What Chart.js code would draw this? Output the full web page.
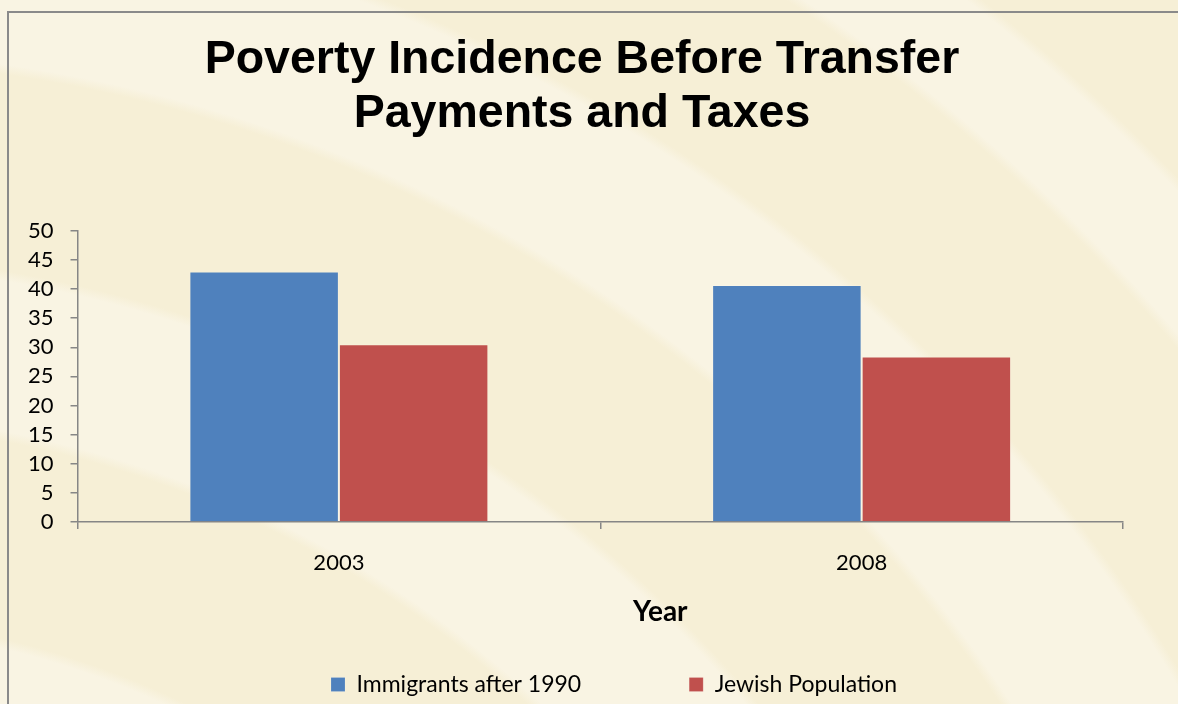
<!DOCTYPE html>
<html>
<head>
<meta charset="utf-8">
<script src="https://cdn.jsdelivr.net/npm/chart.js@4.4.0/dist/chart.umd.min.js"></script>
<style>
  html, body { margin: 0; padding: 0; width: 1178px; height: 704px; overflow: hidden; }
  body {
    background-color: #F7F0D8;
    background-image: radial-gradient(circle at -200px 1500px,
      #F9F4E3 0px, #F9F4E3 875px, #F6EFD6 885px, #F6EFD6 1078px,
      #F9F4E3 1088px, #F9F4E3 1236px, #F6EFD6 1246px, #F6EFD6 1440px,
      #F9F4E3 1450px, #F9F4E3 1600px, #F6EFD6 1610px, #F6EFD6 1795px,
      #F9F4E3 1805px, #F9F4E3 1900px, #F6EFD6 1910px, #F6EFD6 3000px);
  }
  #frame { position: absolute; left: 7px; top: 11px; width: 1200px; height: 720px; border: 2px solid #8a8a8a; box-sizing: border-box; }
  #wrap { position: absolute; left: 0; top: 0; width: 1178px; height: 704px; }
</style>
</head>
<body>
<div id="frame"></div>
<div id="wrap"><canvas id="c" width="1178" height="704"></canvas></div>
<script>
const titleLines = ['Poverty Incidence Before Transfer', 'Payments and Taxes'];
const categories = ['2003', '2008'];
const seriesNames = ['Immigrants after 1990', 'Jewish Population'];
const immigrants = [43, 40.7];
const jewish = [30.5, 28.4];
const yMin = 0, yMax = 50, yStep = 5;
const xAxisTitle = 'Year';

const axisColor = '#868686';

function patchDraw(obj, dx, dy) {
  if (!obj || obj._shiftPatched) return;
  const orig = obj.draw;
  obj.draw = function () {
    const ctx = this.ctx; ctx.save(); ctx.translate(dx, dy); orig.apply(this, arguments); ctx.restore();
  };
  obj._shiftPatched = true;
}

const shiftPlugin = {
  id: 'shift',
  beforeDraw(chart) {
    const xs = chart.scales.x;
    if (xs && !xs._titlePatched) {
      const orig = xs.drawTitle;
      xs.drawTitle = function () {
        const ctx = this.ctx; ctx.save(); ctx.translate(60, 0); orig.apply(this, arguments); ctx.restore();
      };
      xs._computeLabelArea = function () { return undefined; };
      xs._titlePatched = true;
    }
    patchDraw(chart.legend, 47, 0);
    patchDraw(chart.titleBlock, 15, 0);
  }
};

new Chart(document.getElementById('c'), {
  type: 'bar',
  data: {
    labels: categories,
    datasets: [
      { label: seriesNames[0], data: immigrants, backgroundColor: '#4F81BD', borderColor: 'rgba(255,255,255,0.15)', borderWidth: 1 },
      { label: seriesNames[1], data: jewish, backgroundColor: '#C0504D', borderColor: 'rgba(255,255,255,0.15)', borderWidth: 1 }
    ]
  },
  plugins: [shiftPlugin],
  options: {
    responsive: false,
    animation: false,
    layout: { padding: { left: 11, right: 55, top: 10, bottom: -2 } },
    datasets: { bar: { categoryPercentage: 0.572, barPercentage: 1.0 } },
    scales: {
      x: {
        offset: true,
        grid: { offset: true, drawOnChartArea: false, drawTicks: true, tickLength: 7, color: axisColor, lineWidth: 1.5 },
        border: { color: axisColor, width: 1.5 },
        ticks: { color: '#000', font: { family: 'Lato', size: 22 }, padding: 21 },
        title: { display: true, text: xAxisTitle, color: '#000', font: { family: 'Lato', size: 28, weight: 'bold' }, padding: { top: -2, bottom: -64 } }
      },
      y: {
        min: yMin, max: yMax,
        grid: { drawOnChartArea: false, drawTicks: true, tickLength: 7, color: axisColor, lineWidth: 1.5 },
        border: { color: axisColor, width: 1.5 },
        ticks: { stepSize: yStep, autoSkip: false, color: '#000', font: { family: 'Lato', size: 22 }, padding: 17 }
      }
    },
    plugins: {
      title: {
        display: true, text: titleLines, color: '#000',
        font: { family: 'Liberation Sans', size: 46.5, weight: 'bold', lineHeight: 1.17 },
        padding: { top: 23, bottom: 89 }
      },
      legend: {
        position: 'bottom',
        labels: { color: '#000', font: { family: 'Lato', size: 23 }, boxWidth: 14, boxHeight: 14, padding: 108 }
      },
      tooltip: { enabled: false }
    }
  }
});
</script>
</body>
</html>
